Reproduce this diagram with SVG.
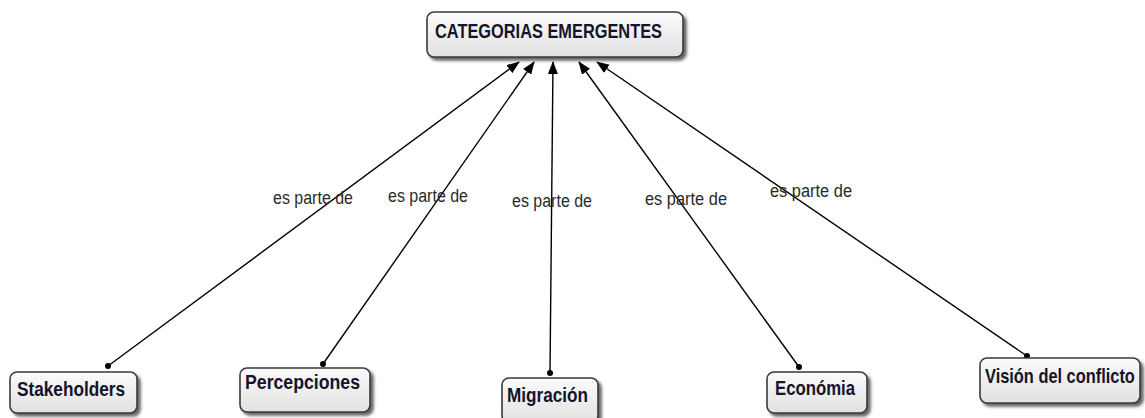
<svg xmlns="http://www.w3.org/2000/svg" width="1145" height="418" viewBox="0 0 1145 418">
<defs>
<linearGradient id="g" x1="0" y1="0" x2="0" y2="1">
<stop offset="0" stop-color="#fbfbfb"/>
<stop offset="1" stop-color="#e1e1e1"/>
</linearGradient>
<filter id="sh" x="-10%" y="-20%" width="130%" height="160%">
<feDropShadow dx="3" dy="3" stdDeviation="1.5" flood-color="#333" flood-opacity="0.75"/>
</filter>
<marker id="arr" viewBox="0 0 13 10" refX="12" refY="5" markerWidth="13" markerHeight="10" markerUnits="userSpaceOnUse" orient="auto">
<path d="M0,0 L13,5 L0,10 Z" fill="#000"/>
</marker>
<marker id="dot" viewBox="0 0 6 6" refX="3" refY="3" markerWidth="6" markerHeight="6" markerUnits="userSpaceOnUse">
<circle cx="3" cy="3" r="3" fill="#000"/>
</marker>
</defs>
<style>
.box{fill:url(#g);stroke:#3a3a3a;stroke-width:1.6;filter:url(#sh)}
.nt{font-family:"Liberation Sans",Arial,sans-serif;font-weight:bold;font-size:20px;fill:#14142a}
.lbl{font-family:"Liberation Sans",Arial,sans-serif;font-size:18px;fill:#2a2a2a}
.con{stroke:#000;stroke-width:1.4;fill:none;marker-end:url(#arr);marker-start:url(#dot)}
</style>
<rect width="1145" height="418" fill="#fff"/>
<g id="connectors">
<line class="con" x1="108" y1="366" x2="519" y2="62"/>
<line class="con" x1="323" y1="364" x2="534" y2="62"/>
<line class="con" x1="550" y1="373" x2="553" y2="62"/>
<line class="con" x1="799" y1="367" x2="579" y2="62"/>
<line class="con" x1="1027" y1="356" x2="597" y2="62"/>
<text class="lbl" x="273" y="204" textLength="80" lengthAdjust="spacingAndGlyphs">es parte de</text>
<text class="lbl" x="388" y="202" textLength="80" lengthAdjust="spacingAndGlyphs">es parte de</text>
<text class="lbl" x="512" y="207" textLength="80" lengthAdjust="spacingAndGlyphs">es parte de</text>
<text class="lbl" x="645" y="205" textLength="82" lengthAdjust="spacingAndGlyphs">es parte de</text>
<text class="lbl" x="770" y="197" textLength="82" lengthAdjust="spacingAndGlyphs">es parte de</text>
</g>
<g id="n-categorias">
<rect class="box" x="427" y="12" width="256" height="45" rx="7"/>
<text class="nt" x="435" y="38" textLength="227" lengthAdjust="spacingAndGlyphs">CATEGORIAS EMERGENTES</text>
</g>
<g id="n-stakeholders">
<rect class="box" x="10" y="372" width="127" height="41" rx="7"/>
<text class="nt" x="17" y="396" textLength="108" lengthAdjust="spacingAndGlyphs">Stakeholders</text>
</g>
<g id="n-percepciones">
<rect class="box" x="240" y="368" width="130" height="44" rx="7"/>
<text class="nt" x="245" y="389" textLength="115" lengthAdjust="spacingAndGlyphs">Percepciones</text>
</g>
<g id="n-migracion">
<rect class="box" x="502" y="378" width="96" height="45" rx="7"/>
<text class="nt" x="507" y="402" textLength="81" lengthAdjust="spacingAndGlyphs">Migración</text>
</g>
<g id="n-economia">
<rect class="box" x="767" y="372" width="100" height="41" rx="7"/>
<text class="nt" x="775" y="395" textLength="80" lengthAdjust="spacingAndGlyphs">Económia</text>
</g>
<g id="n-vision">
<rect class="box" x="980" y="358" width="160" height="45" rx="7"/>
<text class="nt" transform="translate(985,383) scale(0.82,1)" x="0" y="0">Visión del conflicto</text>
</g>
</svg>
